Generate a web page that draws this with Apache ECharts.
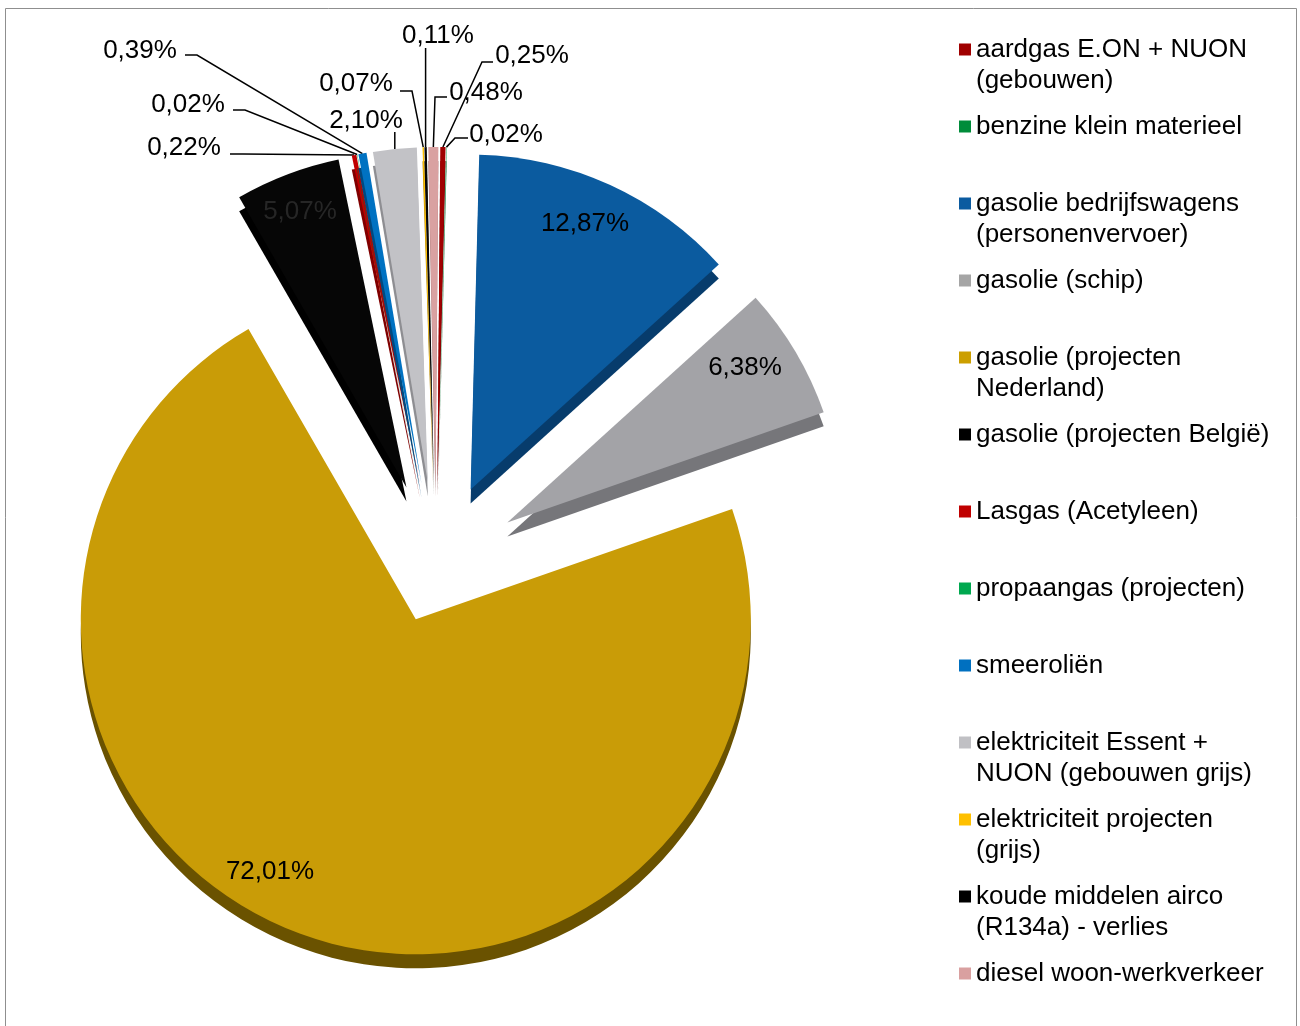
<!DOCTYPE html>
<html><head><meta charset="utf-8">
<script src="https://cdn.jsdelivr.net/npm/echarts@6/dist/echarts.min.js"></script>
<style>html,body{margin:0;padding:0;background:#fff}#c{width:1300px;height:1026px}</style>
</head><body><div id="c"></div>
<script>
// ---------- data ----------
const categories = [
  'aardgas E.ON + NUON (gebouwen)',
  'benzine klein materieel',
  'gasolie bedrijfswagens (personenvervoer)',
  'gasolie (schip)',
  'gasolie (projecten Nederland)',
  'gasolie (projecten België)',
  'Lasgas (Acetyleen)',
  'propaangas (projecten)',
  'smeeroliën',
  'elektriciteit Essent + NUON (gebouwen grijs)',
  'elektriciteit projecten (grijs)',
  'koude middelen airco (R134a) - verlies',
  'diesel woon-werkverkeer'
];
const legendText = [
  'aardgas E.ON + NUON\n(gebouwen)',
  'benzine klein materieel',
  'gasolie bedrijfswagens\n(personenvervoer)',
  'gasolie (schip)',
  'gasolie (projecten\nNederland)',
  'gasolie (projecten België)',
  'Lasgas (Acetyleen)',
  'propaangas (projecten)',
  'smeeroliën',
  'elektriciteit Essent +\nNUON (gebouwen grijs)',
  'elektriciteit projecten\n(grijs)',
  'koude middelen airco\n(R134a) - verlies',
  'diesel woon-werkverkeer'
];
const shares = [0.25, 0.02, 12.87, 6.38, 72.01, 5.07, 0.22, 0.02, 0.39, 2.10, 0.07, 0.11, 0.48];

// ---------- style ----------
const sliceColors  = ['#A00000','#008C3A','#0B5B9F','#A3A3A7','#C99C07','#060606','#C00000','#00A84F','#0072C2','#C2C2C6','#FFC000','#060606','#D9A1A1'];
const sideColors   = ['#600000','#005522','#073C6C','#76767A','#6A5200','#000000','#800000','#006B32','#004A80','#8E8E92','#B08400','#000000','#A87878'];
const legendColors = ['#A00000','#008C3A','#0B5BA0','#A5A5A5','#CC9F00','#000000','#C00000','#00A84F','#0070C0','#C0C0C4','#FFC000','#000000','#D9A0A0'];
const labelColors  = ['#000','#000','#000','#000','#000','#262626','#000','#000','#000','#000','#000','#000','#000'];
const FONT = '"Liberation Sans", Arial, Helvetica, sans-serif';
const PIE_CX = 436, PIE_CY = 565, R = 335, START = 89.5, DEPTH = 14;
const EXPLODE = [83,83,83,83,58,83,83,83,83,83,83,83,83];
// label centre positions (layout)
const LABEL_POS = [
  [532,56],[506,135],[585,224],[745,368],[270,872],[300,212],
  [184,148],[188,105],[140,51],[366,121],[356,84],[438,36],[486,93]
];
// leader line bends (from slice edge to label); null x = keep slice x
const LINES = {
  0: [[482,62],[493,62]],
  1: [[455,138],[468,138]],
  6: [[243,154],[230,154]],
  7: [[245,110],[233,110]],
  8: [[197,55],[185,55]],
  9: [[null,132]],
  10: [[412,91],[400,91]],
  11: [[null,48]],
  12: [[435,97],[447,97]]
};
const fmt = v => v.toFixed(2).replace('.', ',') + '%';

// ---------- build ----------
const total = shares.reduce((a,b)=>a+b,0);
let cum = 0;
const series = [];
shares.forEach((v, i) => {
  const mid = START - (cum + v/2) / total * 360;
  cum += v;
  const rad = mid * Math.PI / 180;
  const cx = PIE_CX + EXPLODE[i] * Math.cos(rad);
  const cy = PIE_CY - EXPLODE[i] * Math.sin(rad);
  series.push({
    type: 'pie', silent: true, animation: false, clockwise: true,
    startAngle: START, center: [cx, cy], radius: [0, R],
    avoidLabelOverlap: false, minAngle: 0, minShowLabelAngle: 0,
    emphasis: { disabled: true },
    itemStyle: { borderWidth: 0 },
    label: { position: 'outside', fontSize: 26, fontFamily: FONT, color: '#000',
             formatter: p => fmt(p.value) },
    labelLine: { length: 10, length2: 10, lineStyle: { color: '#000', width: 1.5 } },
    labelLayout: params => {
      const j = params.dataIndex;
      const pos = LABEL_POS[j];
      const out = { x: pos[0], y: pos[1], align: 'center', verticalAlign: 'middle' };
      const bends = LINES[j];
      if (bends && params.labelLinePoints) {
        const p0 = params.labelLinePoints[0];
        out.labelLinePoints = [p0].concat(bends.map(b => [b[0] == null ? p0[0] : b[0], b[1]]));
      }
      return out;
    },
    data: categories.map((name, j) => j === i ? {
      name, value: shares[j],
      itemStyle: { color: sliceColors[j], borderWidth: 0, shadowColor: sideColors[j],
                   shadowBlur: 0, shadowOffsetX: 0, shadowOffsetY: DEPTH },
      label: { show: true, color: labelColors[j] },
      labelLine: { show: !!LINES[j] }
    } : {
      name, value: shares[j],
      itemStyle: { color: 'rgba(0,0,0,0)', borderWidth: 0 },
      label: { show: false }, labelLine: { show: false }
    })
  });
});

// every legend entry is a 3-line block whose middle line sits on the marker
const legendBlock = t => {
  const parts = t.split('\n');
  return ' \n' + parts[0] + '\n' + (parts[1] || ' ');
};

const chart = echarts.init(document.getElementById('c'), null, { renderer: 'canvas', width: 1300, height: 1026 });
chart.setOption({
  animation: false,
  backgroundColor: '#fff',
  graphic: [{ type: 'rect', silent: true, z: -10,
    shape: { x: 5.5, y: 8.5, width: 1291, height: 1040 },
    style: { fill: 'none', stroke: '#8f8f8f', lineWidth: 1 } }],
  legend: {
    orient: 'vertical', left: 959, top: 3, padding: 0,
    itemWidth: 12, itemHeight: 12, itemGap: -16, icon: 'rect', selectedMode: false,
    textStyle: { fontSize: 26, fontFamily: FONT, color: '#000', lineHeight: 31,
                 backgroundColor: 'rgba(255,255,255,0)' },
    formatter: name => legendBlock(legendText[categories.indexOf(name)]),
    data: categories.map((name, i) => ({
      name, icon: 'rect', itemStyle: { color: legendColors[i] }
    }))
  },
  series
});
</script></body></html>
